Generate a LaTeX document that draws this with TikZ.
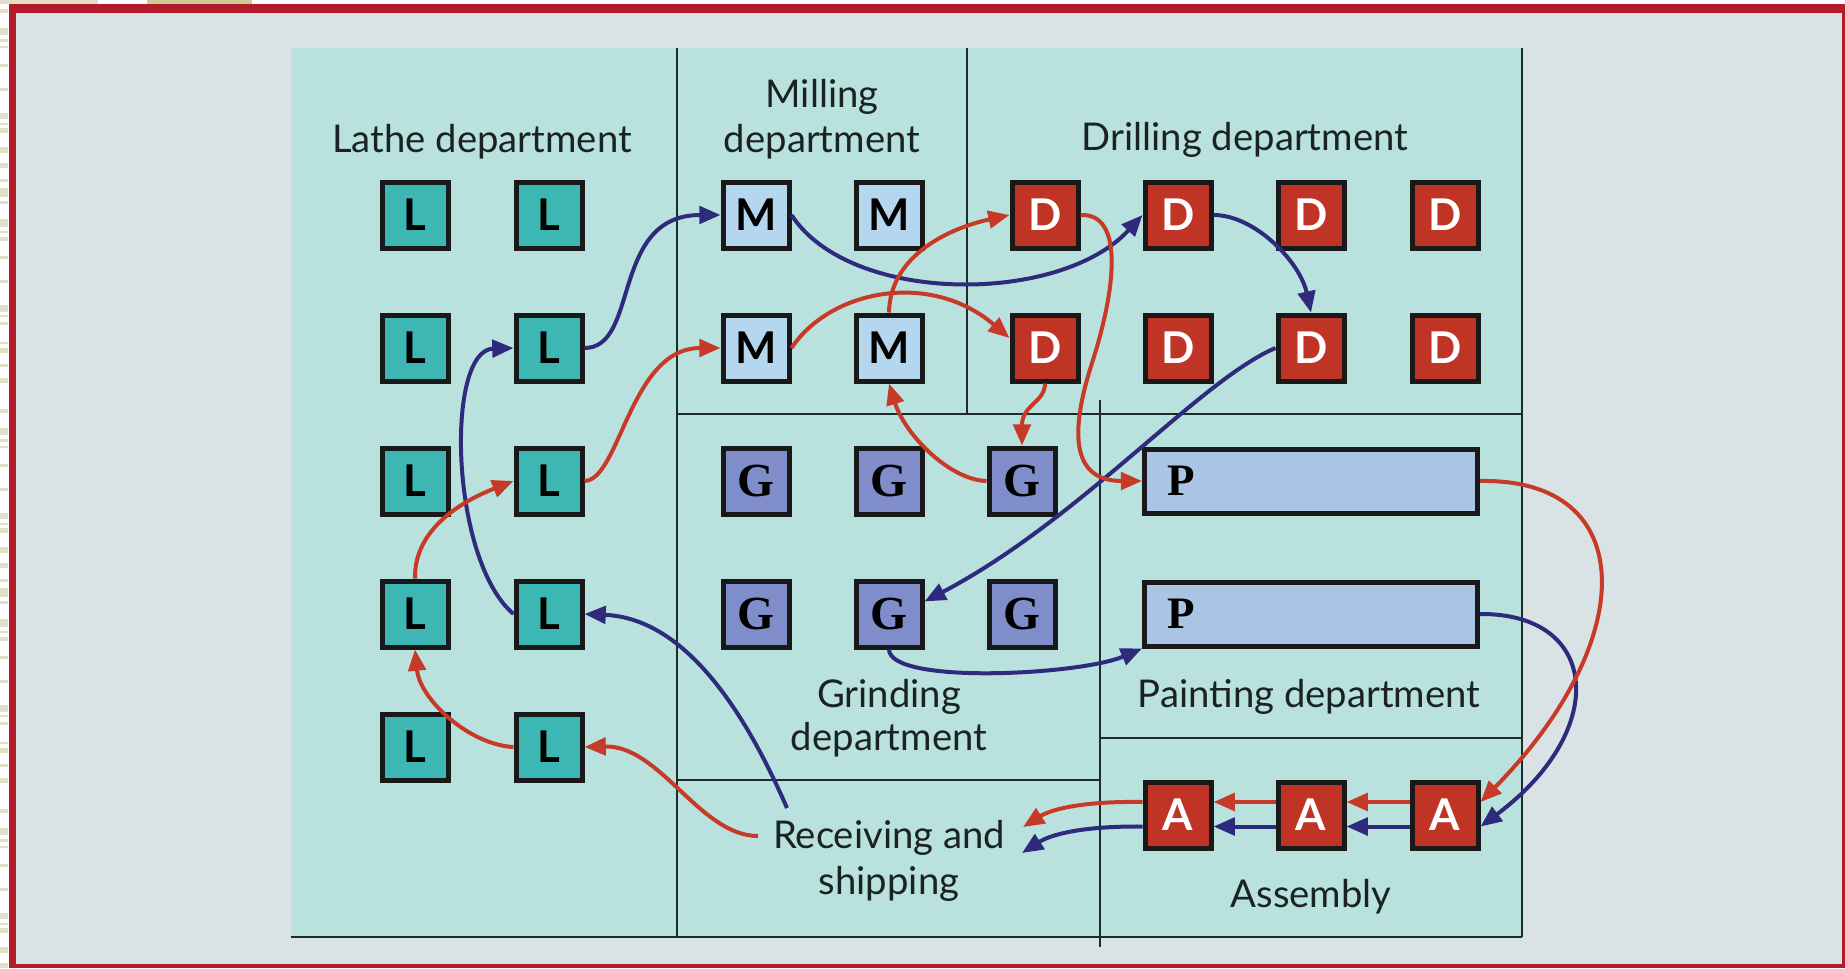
\documentclass[tikz,border=0pt]{standalone}
\usepackage{fontspec}
\setmainfont{Lato}
\newfontfamily\boxserif{Liberation Serif}
\usetikzlibrary{arrows.meta}
\definecolor{bgc}{HTML}{D9E3E5}
\definecolor{framec}{HTML}{B31B2B}
\definecolor{panelc}{HTML}{B9E2DF}
\definecolor{lathec}{HTML}{3DB7B3}
\definecolor{millc}{HTML}{B5D6EF}
\definecolor{drillc}{HTML}{BF3424}
\definecolor{grindc}{HTML}{7F8DCB}
\definecolor{paintc}{HTML}{AAC4E4}
\definecolor{redarr}{HTML}{C83A28}
\definecolor{bluearr}{HTML}{2F2A7C}
\definecolor{txtc}{HTML}{1A2222}
\definecolor{linec}{HTML}{1E2B2B}
\definecolor{beigea}{HTML}{E3DFC6}
\definecolor{beigeb}{HTML}{CFCA98}
\begin{document}
\begin{tikzpicture}[x=0.4pt,y=-0.4pt,
  machbox/.style={draw=black!90, line width=2pt, minimum size=26.4pt, inner sep=0pt,
    font=\fontsize{17.5}{17.5}\selectfont\bfseries},
  lathebox/.style={machbox, fill=lathec},
  millbox/.style={machbox, fill=millc},
  drillbox/.style={machbox, fill=drillc, text=white},
  asmbox/.style={machbox, fill=drillc, text=white},
  grindbox/.style={machbox, fill=grindc, font=\boxserif\fontsize{19}{19}\selectfont\bfseries},
  paintbox/.style={draw=black!90, line width=2pt, fill=paintc, minimum height=25.6pt,
    text width=115.2pt, inner xsep=9pt, inner ysep=0pt, align=left,
    font=\boxserif\fontsize{18}{18}\selectfont\bfseries},
  lbltext/.style={font=\fontsize{15.3}{18}\selectfont, text=txtc, anchor=base, inner sep=0pt},
  redarrow/.style={draw=redarr, line width=1.6pt, -{Triangle[length=8.5pt,width=7pt]}},
  bluearrow/.style={draw=bluearr, line width=1.6pt, -{Triangle[length=8.5pt,width=7pt]}},
  divline/.style={draw=linec, line width=1pt}
]
\useasboundingbox (0,0) rectangle (1845,968);
\fill[white] (0,0) rectangle (1845,968);
% edge strips
\fill[beigea] (0,0) rectangle (98,4);
\fill[beigeb] (147,0) rectangle (252,4);
\foreach \s in {0,400,800}{
  \foreach \a/\b in {9/13,28/35,39/42,46/48,64/67,88/91,113/119,123/125,128/133,147/153,163/168,179/182,188/197,201/204,219/227,231/233,237/241,256/259,280/283,305/312,315/317,322/325,342/344,348/353,364/367,378/383}{
    \fill[beigea] (0,\a+\s) rectangle (8,\b+\s);
  }
}
% frame and background
\fill[framec] (9,4) rectangle (1845,968);
\fill[bgc] (16,13) rectangle (1842,964);
% panel
\fill[panelc] (291,48) rectangle (1522,937);
\draw[divline] (1522,48) -- (1522,937);
\draw[divline] (291,937) -- (1522,937);
\draw[divline] (677,48) -- (677,937);
\draw[divline] (967,48) -- (967,414);
\draw[divline] (677,414) -- (1522,414);
\draw[divline] (1100,400) -- (1100,947);
\draw[divline] (677,780) -- (1100,780);
\draw[divline] (1100,738) -- (1522,738);
% labels
\node[lbltext] (tlathe) at (482,152) {Lathe department};
\node[lbltext] (tmill1) at (822,107) {Milling};
\node[lbltext] (tmill2) at (822,152) {department};
\node[lbltext] (tdrill) at (1245,150) {Drilling department};
\node[lbltext] (tgrind1) at (889,707) {Grinding};
\node[lbltext] (tgrind2) at (889,750) {department};
\node[lbltext] (tpaint) at (1309,707) {Painting department};
\node[lbltext] (trecv1) at (889,848) {Receiving and};
\node[lbltext] (trecv2) at (889,894) {shipping};
\node[lbltext] (tasm) at (1311,907) {Assembly};
% lathe
\foreach \r/\y in {1/215,2/348,3/481,4/614,5/747}{
  \node[lathebox] (L\r1) at (415,\y) {L};
  \node[lathebox] (L\r2) at (549,\y) {L};
}
% milling
\foreach \r/\y in {1/215,2/348}{
  \node[millbox] (M\r1) at (756,\y) {M};
  \node[millbox] (M\r2) at (889,\y) {M};
}
% drilling
\foreach \r/\y in {1/215,2/348}{
  \node[drillbox] (D\r1) at (1045,\y) {D};
  \node[drillbox] (D\r2) at (1178,\y) {D};
  \node[drillbox] (D\r3) at (1311,\y) {D};
  \node[drillbox] (D\r4) at (1445,\y) {D};
}
% grinding
\foreach \r/\y in {1/481,2/614}{
  \node[grindbox] (G\r1) at (756,\y) {G};
  \node[grindbox] (G\r2) at (889,\y) {G};
  \node[grindbox] (G\r3) at (1022,\y) {G};
}
% painting
\node[paintbox] (P1) at (1311,481) {P};
\node[paintbox] (P2) at (1311,614) {P};
% assembly
\node[asmbox] (A1) at (1178,815) {A};
\node[asmbox] (A2) at (1311,815) {A};
\node[asmbox] (A3) at (1445,815) {A};
% free ends near receiving
\coordinate (rsB0) at (787,808);
\coordinate (rsR0) at (758,836);
\coordinate (rsB1) at (1022,853);
\coordinate (rsR1) at (1023,827);
% blue route
\draw[bluearrow] (rsB0) .. controls (740,700) and (680,618) .. (L42.east);
\draw[bluearrow] (L42.west) .. controls (450,560) and (445,350) .. (L22.west);
\draw[bluearrow] (L22.east) .. controls (640,348) and (610,215) .. (M11.west);
\draw[bluearrow] (M11.east) .. controls (850,305) and (1060,305) .. (D12.west);
\draw[bluearrow] (D12.east) .. controls (1255,215) and (1300,262) .. (D23.north);
\draw[bluearrow] (D23.west) .. controls (1200,380) and (1080,520) .. ([yshift=5pt]G22.east);
\draw[bluearrow] (G22.south) .. controls (890,685) and (1080,675) .. (P2.south west);
\draw[bluearrow] (P2.east) .. controls (1600,613) and (1610,730) .. ([yshift=-4.6pt]A3.east);
\draw[bluearrow] ([yshift=-4.6pt]A3.west) -- ([yshift=-4.6pt]A2.east);
\draw[bluearrow] ([yshift=-4.6pt]A2.west) -- ([yshift=-4.6pt]A1.east);
\draw[bluearrow] ([yshift=-4.6pt]A1.west) .. controls (1080,826) and (1050,835) .. (rsB1);
% red route
\draw[redarrow] (rsR0) .. controls (700,836) and (660,745) .. (L52.east);
\draw[redarrow] (L52.west) .. controls (470,745) and (420,700) .. (L41.south);
\draw[redarrow] (L41.north) .. controls (414,530) and (460,502) .. (L32.west);
\draw[redarrow] (L32.east) .. controls (620,480) and (630,348) .. (M21.west);
\draw[redarrow] (M21.east) .. controls (830,290) and (930,270) .. ([yshift=4pt]D21.west);
\draw[redarrow] (M22.north) .. controls (890,255) and (950,228) .. (D11.west);
\draw[redarrow] (D11.east) .. controls (1125,213) and (1115,290) .. (1093,360)
   .. controls (1070,430) and (1070,481) .. (P1.west);
\draw[redarrow] (D21.south) .. controls (1045,402) and (1022,405) .. (G13.north);
\draw[redarrow] (G13.west) .. controls (950,480) and (905,435) .. (M22.south);
\draw[redarrow] (P1.east) .. controls (1640,478) and (1640,640) .. ([yshift=5.2pt]A3.east);
\draw[redarrow] ([yshift=5.2pt]A3.west) -- ([yshift=5.2pt]A2.east);
\draw[redarrow] ([yshift=5.2pt]A2.west) -- ([yshift=5.2pt]A1.east);
\draw[redarrow] ([yshift=5.2pt]A1.west) .. controls (1080,801) and (1050,810) .. (rsR1);
\end{tikzpicture}
\end{document}
